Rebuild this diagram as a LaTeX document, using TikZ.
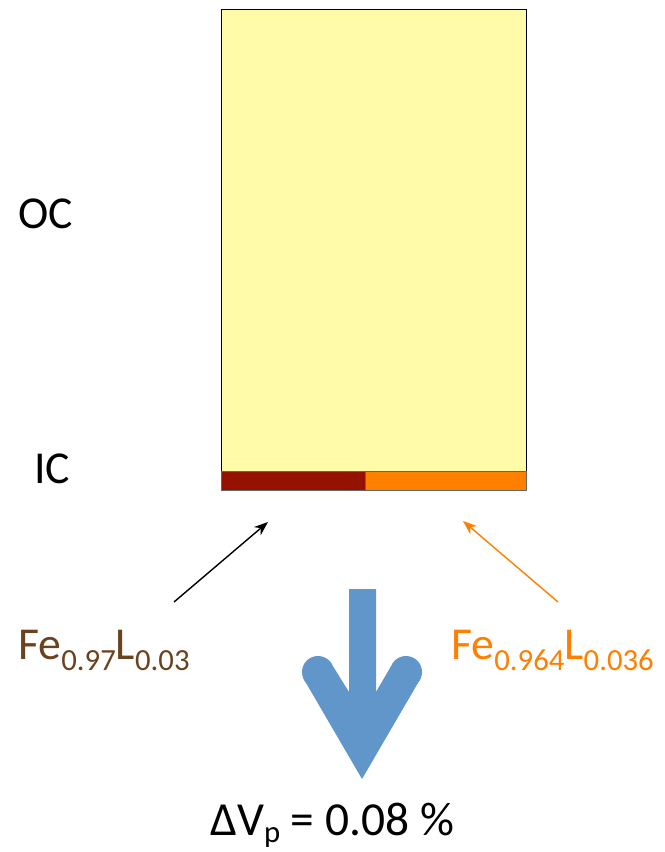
\documentclass[tikz,border=0pt]{standalone}
\usepackage{fontspec}
\setmainfont{Carlito}
\usetikzlibrary{positioning, arrows.meta}
\definecolor{capYellow}{HTML}{FFFBA8}
\definecolor{layerRed}{HTML}{951200}
\definecolor{layerOrange}{HTML}{FF7F00}
\definecolor{feBrown}{HTML}{6B421E}
\definecolor{dvBlue}{HTML}{6096C9}
\newcommand{\lowtxt}[1]{\raisebox{-6.8pt}{\fontsize{17.5}{18}\selectfont #1}}
\tikzset{
  sidelabel/.style={font=\fontsize{26}{30}\selectfont, anchor=base west, inner sep=0pt},
  felabel/.style={font=\fontsize{26}{30}\selectfont, anchor=base west, inner sep=0pt},
  layer/.style={draw=black!60, line width=0.4pt},
  pointer/.style={-{Stealth[length=8pt, width=6pt]}, line width=0.8pt},
}
\begin{document}
\begin{tikzpicture}[x=0.02cm, y=-0.02cm]
  \useasboundingbox (0,0) rectangle (665,852);
  % capsule with the inner layer
  \node[draw=black, fill=capYellow, line width=0.8pt, minimum width=6.1cm, minimum height=9.62cm,
    inner sep=0pt, anchor=north west] (cap) at (221,9) {};
  \draw[layer, fill=layerRed] (221,471) rectangle (365,490);
  \draw[layer, fill=layerOrange] (365,471) rectangle (526,490);
  \node[sidelabel] (oc) at (18,228) {OC};
  \node[sidelabel] (ic) at (34,483) {IC};
  % compositions
  \node[felabel, text=feBrown] (feA) at (18,659) {Fe\lowtxt{0.97}L\lowtxt{0.03}};
  \node[felabel, text=layerOrange] (feB) at (451,659) {Fe\lowtxt{0.964}L\lowtxt{0.036}};
  \coordinate (tailA) at (174,602);
  \coordinate (headA) at (268,522);
  \coordinate (tailB) at (558,602);
  \coordinate (headB) at (463,521);
  \draw[pointer, black] (tailA) -- (headA);
  \draw[pointer, layerOrange] (tailB) -- (headB);
  % volume change arrow
  \fill[dvBlue] (318,672) circle[radius=16];
  \fill[dvBlue] (406,672) circle[radius=16];
  \fill[dvBlue] (303.2,678.1) -- (362,779) -- (420.8,678.1) -- (391.2,665.9) -- (376,692)
    -- (376,589) -- (349,589) -- (349,692) -- (332.8,665.9) -- cycle;
  \node[font=\fontsize{27}{32}\selectfont, anchor=base west, inner sep=0pt] (dv) at (210,835)
    {ΔV\raisebox{-4.5pt}{\fontsize{17.5}{18}\selectfont p} = 0.08 \%};
\end{tikzpicture}
\end{document}
